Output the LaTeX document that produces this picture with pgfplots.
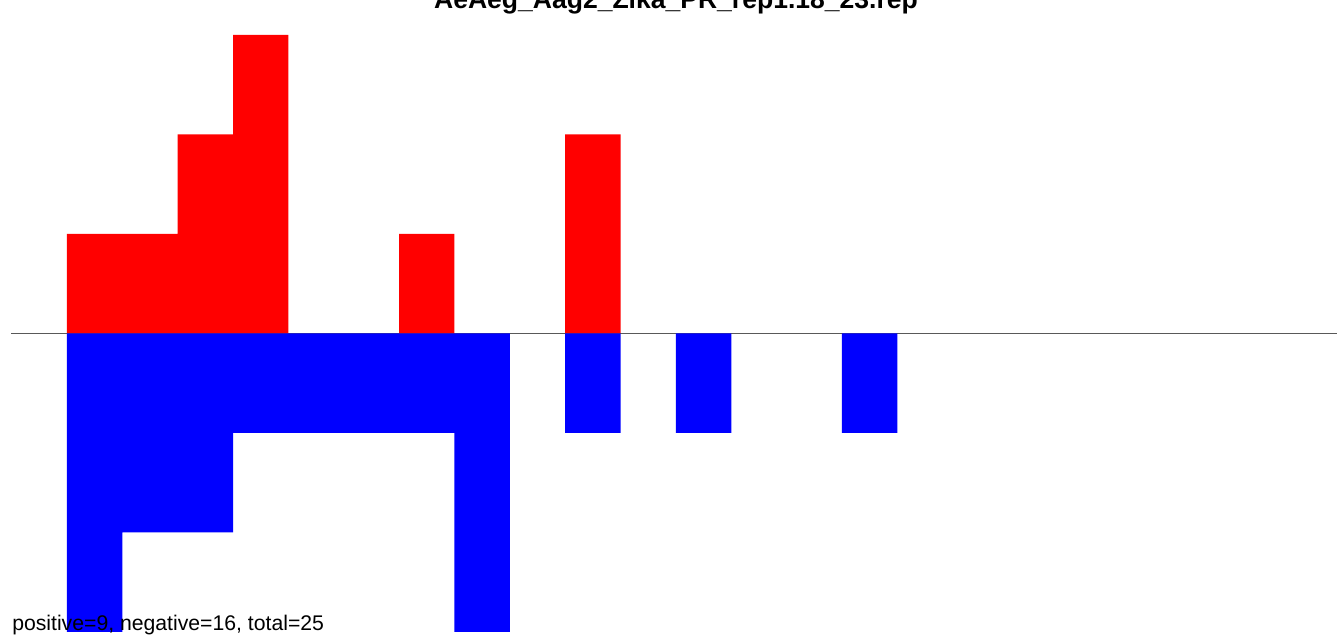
\documentclass[border=0pt]{standalone}
\usepackage{pgfplots}
\pgfplotsset{compat=1.18}
\usepackage{fontspec}
\setmainfont{Liberation Sans}
\begin{document}
\begin{tikzpicture}
\useasboundingbox (0pt,0pt) rectangle (1002.75pt,478.5pt);
\begin{axis}[
  at={(8.73pt,4.5pt)}, anchor=south west,
  scale only axis, width=996.4pt, height=447.75pt,
  xmin=-1, xmax=23, ymin=-3, ymax=3,
  axis lines=none, clip=false,
]
\addplot[draw=black!65, line width=0.75pt] coordinates {(-1.01,0) (23,0)};
\addplot[ybar, bar width=1, bar shift=0pt, fill=red, draw=none] coordinates {
(0.5,1) (1.5,1) (2.5,2) (3.5,3) (6.5,1) (9.5,2)};
\addplot[ybar, bar width=1, bar shift=0pt, fill=blue, draw=none] coordinates {
(0.5,-3) (1.5,-2) (2.5,-2) (3.5,-1) (4.5,-1) (5.5,-1) (6.5,-1) (7.5,-3) (9.5,-1) (11.5,-1) (14.5,-1)};
\end{axis}
\node[anchor=base, inner sep=0pt, font=\bfseries\fontsize{19.9}{22}\selectfont] at (507pt,471.75pt) {AeAeg\_Aag2\_Zika\_PR\_rep1.18\_23.rep};
\node[anchor=base west, inner sep=0pt, font=\fontsize{15.9}{18}\selectfont] at (9pt,5.25pt) {positive=9, negative=16, total=25};
\end{tikzpicture}
\end{document}
